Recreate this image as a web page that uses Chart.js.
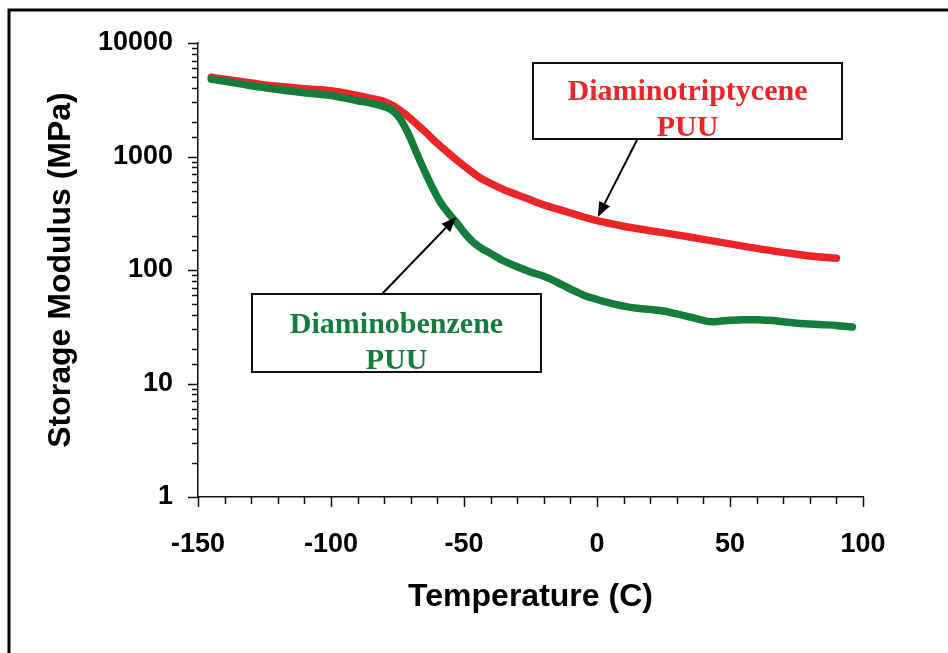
<!DOCTYPE html>
<html>
<head>
<meta charset="utf-8">
<title>Storage Modulus vs Temperature</title>
<script src="https://cdn.jsdelivr.net/npm/chart.js@4/dist/chart.umd.min.js"></script>
<style>
    html, body { margin: 0; padding: 0; background: #fff; }
    #wrap { width: 948px; height: 653px; }
</style>
</head>
<body>
<div id="wrap"><canvas id="dmaChart" width="948" height="653"></canvas></div>
<script>
// Diaminotriptycene PUU (red)
const triptyceneTemp = [-145, -140, -130, -120, -110, -100, -90, -85, -80, -76, -72, -68, -64, -60, -56, -52, -48, -44, -40, -35, -30, -25, -20, -15, -10, -5, 0, 10, 20, 30, 40, 50, 60, 70, 80, 90];
const triptyceneModulus = [5000, 4800, 4450, 4150, 3950, 3800, 3450, 3250, 3050, 2750, 2350, 1950, 1600, 1300, 1080, 900, 760, 650, 580, 510, 460, 415, 375, 345, 318, 293, 272, 243, 222, 204, 186, 170, 155, 143, 133, 127];

// Diaminobenzene PUU (green)
const benzeneTemp = [-145, -140, -130, -120, -110, -100, -90, -85, -80, -77, -74, -71, -68, -65, -62, -59, -56, -53, -50, -47, -44, -40, -35, -30, -25, -20, -15, -10, -5, 0, 5, 10, 15, 20, 25, 30, 35, 40, 43, 46, 50, 55, 60, 65, 70, 75, 80, 85, 90, 96];
const benzeneModulus = [4800, 4600, 4200, 3900, 3650, 3450, 3100, 2950, 2750, 2550, 2150, 1600, 1100, 760, 540, 400, 320, 265, 215, 180, 158, 140, 120, 107, 96, 88, 78, 68, 60, 55, 51, 48, 46, 45, 43.5, 41, 38.5, 36, 35, 35.3, 36, 36.5, 36.5, 36, 35, 34, 33.5, 33, 32.5, 31.5];

// Axis tick labels
const xTickLabels = [-150, -100, -50, 0, 50, 100];
const yTickLabels = [1, 10, 100, 1000, 10000];

const RED = '#ee2528';
const GREEN = '#147d3c';

const toPoints = (xs, ys) => xs.map((x, i) => ({ x: x, y: ys[i] }));

// Callout boxes (pixel boxes, arrow tips in data units)
const callouts = [
    { lines: ['Diaminotriptycene', 'PUU'], color: RED, box: [533, 63, 842, 139], baselines: [100, 136],
      tail: [637, 140], tip: { x: 0.3, y: 293 } },
    { lines: ['Diaminobenzene', 'PUU'], color: GREEN, box: [252, 294, 541, 372], baselines: [333, 369],
      tail: [382, 294], tip: { x: -52.9, y: 293 } }
];

const framePlugin = {
    id: 'frame',
    beforeDraw(chart) {
        const ctx = chart.ctx;
        ctx.save();
        ctx.fillStyle = '#fff';
        ctx.fillRect(0, 0, chart.width, chart.height);
        ctx.strokeStyle = '#000';
        ctx.lineWidth = 3;
        ctx.beginPath();
        ctx.moveTo(9, chart.height);
        ctx.lineTo(9, 10);
        ctx.lineTo(chart.width, 10);
        ctx.stroke();
        ctx.restore();
    },
    afterDraw(chart) {
        const ctx = chart.ctx;
        const xs = chart.scales.x;
        const ys = chart.scales.y;
        ctx.save();
        ctx.strokeStyle = '#111';
        ctx.lineWidth = 1.5;
        // tick marks: longer for labelled values
        ctx.beginPath();
        xs.ticks.forEach(t => {
            const px = Math.round(xs.getPixelForValue(t.value)) + 0.5;
            const len = xTickLabels.includes(t.value) ? 10 : 7;
            ctx.moveTo(px, xs.top);
            ctx.lineTo(px, xs.top + len);
        });
        ys.ticks.forEach(t => {
            const py = Math.round(ys.getPixelForValue(t.value)) + 0.5;
            const len = yTickLabels.includes(t.value) ? 10 : 6;
            ctx.moveTo(ys.right, py);
            ctx.lineTo(ys.right - len, py);
        });
        ctx.stroke();

        // callouts
        callouts.forEach(c => {
            const [x0, y0, x1, y1] = c.box;
            ctx.fillStyle = '#fff';
            ctx.fillRect(x0, y0, x1 - x0, y1 - y0);
            ctx.strokeStyle = '#111';
            ctx.lineWidth = 2;
            ctx.strokeRect(x0, y0, x1 - x0, y1 - y0);
            ctx.fillStyle = c.color;
            ctx.font = 'bold 30px "Liberation Serif", "Times New Roman", serif';
            ctx.textAlign = 'center';
            ctx.textBaseline = 'alphabetic';
            c.lines.forEach((s, i) => ctx.fillText(s, (x0 + x1) / 2, c.baselines[i]));

            const tx = xs.getPixelForValue(c.tip.x);
            const ty = ys.getPixelForValue(c.tip.y);
            const [sx, sy] = c.tail;
            const ang = Math.atan2(ty - sy, tx - sx);
            const headLen = 15, headW = 6;
            const bx = tx - headLen * Math.cos(ang);
            const by = ty - headLen * Math.sin(ang);
            ctx.strokeStyle = '#000';
            ctx.lineWidth = 2;
            ctx.beginPath();
            ctx.moveTo(sx, sy);
            ctx.lineTo(bx, by);
            ctx.stroke();
            ctx.fillStyle = '#000';
            ctx.beginPath();
            ctx.moveTo(tx, ty);
            ctx.lineTo(bx + headW * Math.sin(ang), by - headW * Math.cos(ang));
            ctx.lineTo(bx - headW * Math.sin(ang), by + headW * Math.cos(ang));
            ctx.closePath();
            ctx.fill();
        });
        ctx.restore();
    }
};

const tickFont = { family: '"Liberation Sans", Arial, sans-serif', size: 27, weight: 'bold' };
const titleFont = { family: '"Liberation Sans", Arial, sans-serif', size: 32, weight: 'bold' };

new Chart(document.getElementById('dmaChart'), {
    type: 'line',
    data: {
        datasets: [
            {
                label: 'Diaminobenzene PUU',
                data: toPoints(benzeneTemp, benzeneModulus),
                borderColor: GREEN,
                borderWidth: 7.5,
                borderCapStyle: 'round',
                borderJoinStyle: 'round',
                pointRadius: 0,
                cubicInterpolationMode: 'monotone',
                fill: false
            },
            {
                label: 'Diaminotriptycene PUU',
                data: toPoints(triptyceneTemp, triptyceneModulus),
                borderColor: RED,
                borderWidth: 7.5,
                borderCapStyle: 'round',
                borderJoinStyle: 'round',
                pointRadius: 0,
                cubicInterpolationMode: 'monotone',
                fill: false
            }
        ]
    },
    options: {
        responsive: false,
        animation: false,
        devicePixelRatio: 1,
        layout: { padding: { top: 43, right: 85, bottom: 0, left: 0 } },
        plugins: {
            legend: { display: false },
            tooltip: { enabled: false }
        },
        scales: {
            x: {
                type: 'linear',
                min: -150,
                max: 100,
                grid: { display: false, drawTicks: false },
                border: { display: true, color: '#111', width: 1.5 },
                ticks: {
                    stepSize: 10,
                    autoSkip: false,
                    maxRotation: 0,
                    padding: 31,
                    color: '#000',
                    font: tickFont,
                    callback: v => xTickLabels.includes(v) ? String(v) : ''
                },
                title: {
                    display: true,
                    text: 'Temperature (C)',
                    color: '#000',
                    font: titleFont,
                    padding: { top: 0, bottom: 37 }
                },
                afterFit: s => { s.height = 156; }
            },
            y: {
                type: 'logarithmic',
                min: 1,
                max: 10000,
                grid: { display: false, drawTicks: false },
                border: { display: true, color: '#111', width: 1.5 },
                ticks: {
                    autoSkip: false,
                    padding: 25,
                    color: '#000',
                    font: tickFont,
                    callback: v => yTickLabels.includes(v) ? String(v) : ''
                },
                title: {
                    display: true,
                    text: 'Storage Modulus (MPa)',
                    color: '#000',
                    font: titleFont,
                    padding: { top: 42, bottom: 0 }
                },
                afterFit: s => { s.width = 198; }
            }
        }
    },
    plugins: [framePlugin]
});
</script>
</body>
</html>
